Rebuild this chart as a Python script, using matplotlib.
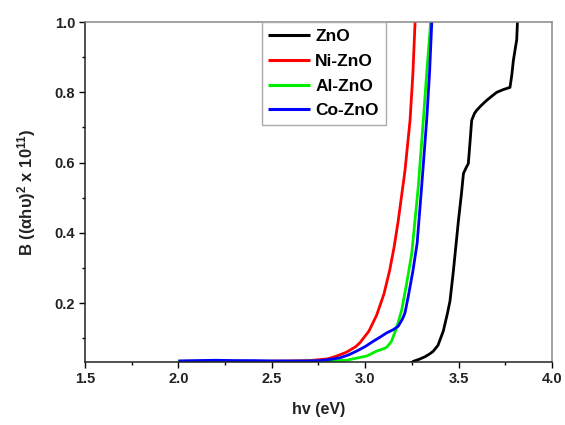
import matplotlib
matplotlib.use("Agg")
import matplotlib.pyplot as plt
from matplotlib.ticker import MultipleLocator

plt.rcParams['font.family'] = ['Liberation Sans', 'DejaVu Sans']
plt.rcParams['mathtext.fontset'] = 'custom'
plt.rcParams['mathtext.rm'] = 'Liberation Sans:bold'
plt.rcParams['mathtext.bf'] = 'Liberation Sans:bold'
plt.rcParams['mathtext.it'] = 'Liberation Sans:bold'

zno_x = [3.24, 3.258, 3.29, 3.32, 3.345, 3.365, 3.39, 3.418, 3.44, 3.454, 3.472, 3.485, 3.499,
         3.515, 3.526, 3.54, 3.552, 3.56, 3.57, 3.585, 3.597, 3.62, 3.65, 3.68, 3.704, 3.74,
         3.775, 3.785, 3.793, 3.805, 3.811, 3.815, 3.818]
zno_y = [0.028, 0.034, 0.040, 0.047, 0.055, 0.063, 0.080, 0.120, 0.170, 0.206, 0.291, 0.360, 0.434,
         0.510, 0.569, 0.585, 0.597, 0.650, 0.720, 0.740, 0.749, 0.762, 0.777, 0.790, 0.800, 0.808,
         0.814, 0.850, 0.890, 0.930, 0.949, 1.000, 1.020]

ni_x = [2.0, 2.2, 2.4, 2.6, 2.7, 2.8, 2.847, 2.9, 2.95, 2.972, 3.02, 3.061, 3.1, 3.131, 3.155,
        3.177, 3.213, 3.24, 3.255, 3.267, 3.27]
ni_y = [0.034, 0.035, 0.034, 0.035, 0.036, 0.041, 0.049, 0.060, 0.076, 0.087, 0.120, 0.165, 0.225,
        0.293, 0.360, 0.435, 0.577, 0.720, 0.850, 1.000, 1.020]

al_x = [2.0, 2.2, 2.4, 2.6, 2.8, 2.9, 3.008, 3.061, 3.1, 3.115, 3.14, 3.168, 3.195, 3.22, 3.249,
        3.284, 3.311, 3.33, 3.347, 3.352]
al_y = [0.034, 0.035, 0.034, 0.034, 0.035, 0.037, 0.049, 0.063, 0.070, 0.074, 0.090, 0.129, 0.179,
        0.250, 0.340, 0.530, 0.720, 0.860, 0.976, 1.020]

co_x = [2.0, 2.1, 2.2, 2.3, 2.4, 2.5, 2.6, 2.7, 2.758, 2.82, 2.865, 2.91, 2.954, 3.0, 3.043,
        3.08, 3.115, 3.15, 3.177, 3.2, 3.213, 3.231, 3.255, 3.278, 3.302, 3.329, 3.345, 3.358]
co_y = [0.035, 0.036, 0.037, 0.036, 0.036, 0.035, 0.035, 0.035, 0.036, 0.040, 0.044, 0.052, 0.063,
        0.076, 0.091, 0.103, 0.115, 0.124, 0.134, 0.155, 0.172, 0.220, 0.290, 0.370, 0.530, 0.720,
        0.860, 1.020]

labels = ['ZnO', 'Ni-ZnO', 'Al-ZnO', 'Co-ZnO']
colors = ['black', '#ff0000', '#00ee00', '#0000ff']

fig = plt.figure(figsize=(5.65, 4.25), dpi=100)
ax = fig.add_axes([0.1504, 0.1482, 0.8266, 0.7998])

series = [(zno_x, zno_y), (ni_x, ni_y), (al_x, al_y), (co_x, co_y)]
for (xs, ys), lab, c in zip(series, labels, colors):
    ax.plot(xs, ys, color=c, lw=2.0, label=lab, solid_capstyle='butt')

ax.set_xlim(1.5, 4.0)
ax.set_ylim(0.032, 1.0)
ax.xaxis.set_major_locator(MultipleLocator(0.5))
ax.xaxis.set_minor_locator(MultipleLocator(0.25))
ax.set_yticks([0.2, 0.4, 0.6, 0.8, 1.0])
ax.yaxis.set_minor_locator(MultipleLocator(0.1))
ax.tick_params(which='major', direction='out', length=4, width=1, labelsize=10.5, pad=3)
ax.tick_params(which='minor', direction='out', length=2.5, width=1)
for lbl in ax.get_xticklabels() + ax.get_yticklabels():
    lbl.set_fontweight('bold')
    lbl.set_color('#222222')

ax.spines['left'].set_color('#222222')
ax.spines['bottom'].set_color('#222222')
ax.spines['top'].set_color('#888888')
ax.spines['right'].set_color('#888888')
for s in ax.spines.values():
    s.set_linewidth(1.1)

ax.set_xlabel('hv (eV)', fontsize=11.5, fontweight='bold', labelpad=12, color='#222222')
ax.set_ylabel('B ((\u03b1h\u03c5)$^{2}$ x 10$^{11}$)', fontsize=12, fontweight='bold',
              labelpad=12, color='#222222')

leg = ax.legend(loc='upper left', bbox_to_anchor=(0.378, 1.0), borderaxespad=0,
                fancybox=False, framealpha=1, edgecolor='#aaaaaa', borderpad=0.4,
                handlelength=2.4, handletextpad=0.3, labelspacing=0.55,
                prop={'weight': 'bold', 'size': 12.5})
leg.get_frame().set_linewidth(1.0)
for line in leg.get_lines():
    line.set_linewidth(2.2)

fig.savefig('out.png', dpi=100)
